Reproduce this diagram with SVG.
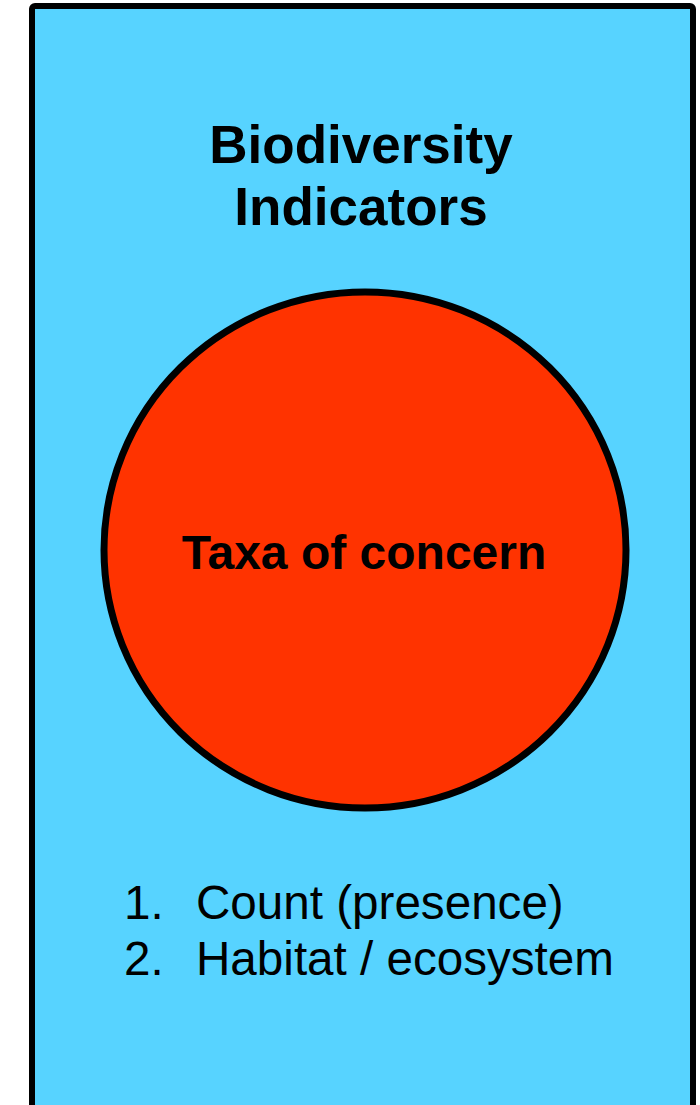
<svg xmlns="http://www.w3.org/2000/svg" width="700" height="1105" viewBox="0 0 700 1105">
<style>
.t{font-family:"Liberation Sans",Arial,sans-serif;fill:#000}
.b{font-weight:bold}
</style>
<rect width="700" height="1105" fill="#fff"/>
<g id="panel">
<rect x="32" y="6" width="661" height="1130" rx="3" fill="#57D3FF" stroke="#000" stroke-width="6"/>
<text class="t b" x="361" y="163" font-size="53" text-anchor="middle">Biodiversity</text>
<text class="t b" x="361" y="225" font-size="53" text-anchor="middle">Indicators</text>
</g>
<g id="taxa">
<ellipse cx="365" cy="550" rx="261" ry="258" fill="#FF3300" stroke="#000" stroke-width="7"/>
<text class="t b" x="364" y="569" font-size="48" text-anchor="middle">Taxa of concern</text>
</g>
<g id="list">
<text class="t" x="124" y="919" font-size="47.6">1.</text>
<text class="t" x="196" y="919" font-size="47.6">Count (presence)</text>
<text class="t" x="124" y="975" font-size="47.6">2.</text>
<text class="t" x="196" y="975" font-size="47.6">Habitat / ecosystem</text>
</g>
<g id="connectors"/>
</svg>
